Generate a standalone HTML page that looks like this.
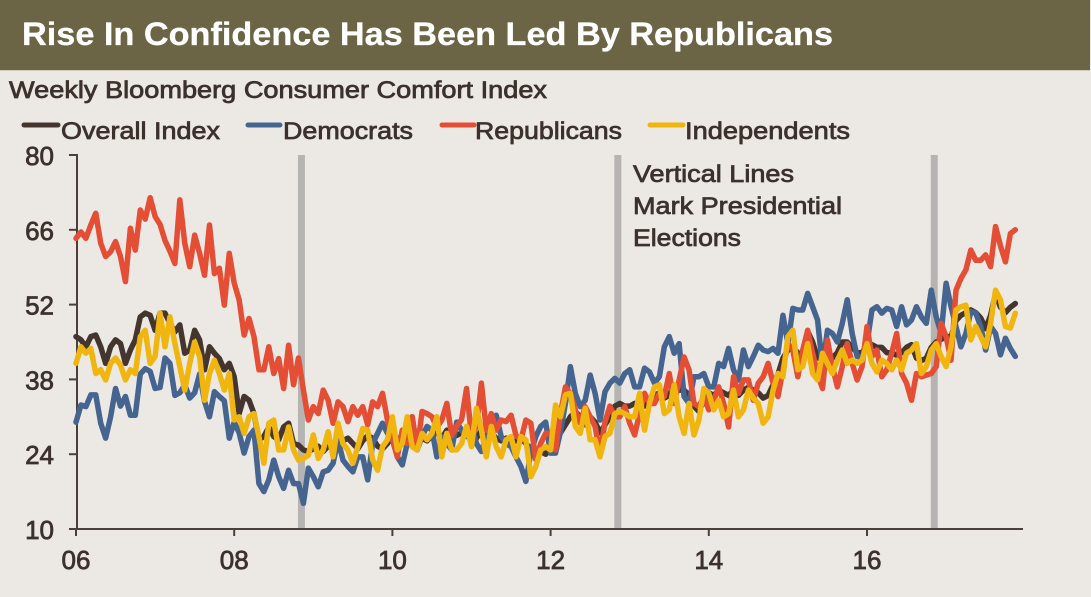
<!DOCTYPE html>
<html lang="en">
<head>
<meta charset="utf-8">
<title>Rise In Confidence Has Been Led By Republicans</title>
<style>
  html, body { margin: 0; padding: 0; background: #ece9e5; }
  svg { display: block; }
  text { font-family: "Liberation Sans", sans-serif; fill: #3c312d; stroke: #3c312d; stroke-width: 0.75px; }
  .heading { fill: #ffffff; stroke: #ffffff; stroke-width: 0.3px; font-weight: bold; }
</style>
</head>
<body>
<svg id="chart" width="1091" height="597" viewBox="0 0 1091 597" xmlns="http://www.w3.org/2000/svg">
  <rect x="0" y="0" width="1091" height="597" fill="#ece9e5"/>
  <rect x="0" y="0" width="1090" height="70" fill="#6c6545"/>
  <rect x="0" y="70" width="1090" height="1" fill="#cfcabb"/>
  <text class="heading" x="22" y="45" font-size="32" textLength="811" lengthAdjust="spacingAndGlyphs">Rise In Confidence Has Been Led By Republicans</text>
  <text x="9" y="98" font-size="24" textLength="538" lengthAdjust="spacingAndGlyphs">Weekly Bloomberg Consumer Comfort Index</text>

  <g>
    <g>
      <line x1="24" y1="125" x2="58" y2="125" stroke="#44362f" stroke-width="5" stroke-linecap="round"/>
      <text x="61" y="139" font-size="24.5" textLength="159" lengthAdjust="spacingAndGlyphs">Overall Index</text>
    </g>
    <g>
      <line x1="248" y1="125" x2="280" y2="125" stroke="#456590" stroke-width="5" stroke-linecap="round"/>
      <text x="283" y="139" font-size="24.5" textLength="130" lengthAdjust="spacingAndGlyphs">Democrats</text>
    </g>
    <g>
      <line x1="442" y1="125" x2="474" y2="125" stroke="#e34e35" stroke-width="5" stroke-linecap="round"/>
      <text x="475" y="139" font-size="24.5" textLength="147" lengthAdjust="spacingAndGlyphs">Republicans</text>
    </g>
    <g>
      <line x1="650" y1="125" x2="683" y2="125" stroke="#f0b50f" stroke-width="5" stroke-linecap="round"/>
      <text x="685" y="139" font-size="24.5" textLength="165" lengthAdjust="spacingAndGlyphs">Independents</text>
    </g>
  </g>

  <g id="elections"></g>
  <g id="axes"></g>
  <g id="series"></g>

  <g>
    <text x="633" y="182" font-size="24.5" textLength="161" lengthAdjust="spacingAndGlyphs">Vertical Lines</text>
    <text x="633" y="214" font-size="24.5" textLength="209" lengthAdjust="spacingAndGlyphs">Mark Presidential</text>
    <text x="633" y="246" font-size="24.5" textLength="108" lengthAdjust="spacingAndGlyphs">Elections</text>
  </g>
</svg>

<script>
// Value scale and tick labels
const yTicks = [10, 24, 38, 52, 66, 80];
const xTickYears = [2006, 2008, 2010, 2012, 2014, 2016];
const xTickLabels = ["06", "08", "10", "12", "14", "16"];
const electionYears = [2008.85, 2012.85, 2016.85];
const startYear = 2006;
const samplesPerYear = 16;

// Index values sampled 16 times per year from January 2006
const overall = [
  46,45.4,44.1,46,46.3,44.1,41,44.1,45.4,44.7,
  41,43.5,45.4,49.7,50.4,50,47.2,50.4,50.4,48.5,
  46.9,48.2,42.9,43.5,47.2,45.4,39.8,44.1,42.9,41.9,
  39.8,41,38.5,31.6,34.8,34.1,31.6,26.7,27.3,29.1,
  27.3,26.7,29.1,29.8,26,25.7,24.8,
  24.5,25,25.5,24.5,25.5,25,26,26.5,27,26,
  25,26.5,27.5,27,25.5,25,26,27.5,27,26,
  27,26,25.5,27,26.5,27.5,28,27,28.5,27.5,
  27.5,28,28.5,28,27,28.5,29,28,27,26.5,
  27,26,26.5,27,26,25,24.5,24.5,24,25,
  27,28,29.5,31,32,31,29.5,31,30,28,
  29.5,31,33,
  33.5,33,33,33.5,33,33,34,35,35.5,34.5,
  35,37,36,36,35,33,32,34,35.5,35,
  36,35.5,35,36,35,36,36.5,36,35.5,34.5,
  35,37,39,42,43.5,44,43,42.5,47,45,42,
  42,41.5,42,43,45,45,44,43,43,44.5,
  44.5,44,44,43,43,42.5,43,44,44.5,42,
  41.5,42,44,45,45.5,46,46,49,50,50.5,
  51,50.5,49.5,47.5,50,54,51.5,50.5,51.5,52.2
];
const democrats = [
  30,33.2,32.9,35.1,35.1,29.8,27,31,36.3,33,
  34.8,31.3,31.3,39,40,39.5,36.3,36.5,42,41,
  35,35.5,37,34.5,35.5,39,33.9,31,35.7,34.8,
  34,27,30,28,24.2,27.3,28.5,18.5,17,19.2,
  22.9,19.8,17.6,21,18.5,18.5,14.8,
  21.4,19.8,17.9,20.7,21,22.3,26.7,22.9,21.7,20.7,
  23.5,23.5,19.2,26,27.9,29.8,27.9,26.7,23.5,22,
  26,31,24.8,27.3,29.2,28.5,23.5,27.3,26,24.8,
  30,28.5,27.3,29.5,26,24.5,27.3,29.8,31.3,27.3,
  26,25.4,23.5,21.7,18.9,24.2,27.3,29.2,30,24.2,
  24.2,28.2,33.5,40.4,35.4,32.9,34.1,38.8,35.4,30.4,
  35.7,37.3,38.2,
  37.3,39.1,39.8,36.6,36.6,40.1,39.4,37.3,38.5,44.1,
  46,42.9,44.7,34.8,33.5,38.5,38.5,39.1,36.6,36.6,
  41,40.4,43.8,39.8,37.9,43.5,40.4,42.3,44.4,43.5,
  43.2,43.8,42.9,50,44.7,51.3,51,51,54.1,51.6,49.1,
  40.4,47.2,46.6,45,48.5,52.9,46.6,42.3,42,44.7,
  51,51.6,50.4,51.3,51,47.9,51.6,48.2,49.1,51.6,
  49.7,48.5,54.7,49.7,46.6,56,51.6,47.9,44.1,46.6,
  50.7,50.4,47.9,43.5,47.9,46.6,42.6,45.7,43.8,42.3
];
const republicans = [
  64.4,65.6,64.4,66.9,69.1,63.5,61,61.9,63.8,61,
  56.3,66.3,62.2,69.7,68,72,68.5,67,64,62,
  59.7,71.6,63.5,59.1,65,61.6,57.5,66.9,57.8,58.8,
  51.9,61.6,56,52.9,46.3,49.4,46,39.8,39.8,44.1,
  39.1,41.9,36.3,44.4,37,42,36,
  30.4,32.9,31.6,36,34.1,29.8,33.8,32.9,30.1,32.9,
  31.3,32.9,29.5,33.8,32.9,35.4,30.4,27,23.5,28.5,
  26,31,24.8,32,31.6,31,29,30.4,33.5,27.5,
  29.2,30.5,36.3,27.3,29.2,37.3,28.5,31.6,28.5,30.4,
  30.1,31.3,27.5,26.7,30.4,29.8,23,26,27.9,27.9,
  24.8,31.6,36.6,35.4,32.3,29.8,32.9,31,29.2,24,
  30,33,31,
  31,32.9,29.8,27.6,31.6,35.4,33.5,33.5,35.4,34.8,
  39.1,33.5,37.9,42.2,39.8,33.5,32.9,34.8,32.3,34.1,
  36.6,33.5,29.1,38.5,35.4,37.9,37.9,34.1,37.3,38.5,
  41,37.3,34.8,39.8,44.7,43.5,38.5,43.5,47.2,42.9,39,
  36.3,45.4,40.4,36.6,40.4,44.7,41,37.9,40.4,47.9,
  42.3,43.5,38.5,39.8,42.9,46.6,39.1,37.3,34.1,39.1,
  38.5,38.8,39.1,40.4,48.5,46,41.6,54.7,56.9,58.5,
  62.2,60.3,60.3,61.3,59.1,66.6,63,60,65.3,66
];
const independents = [
  41,44.1,42.9,43.8,39.1,39.8,37.9,41,42,40.7,
  37.9,39.8,39.1,46,47.2,41,42.3,50.4,44.1,49.7,
  44.7,40.4,36,41,45,42.3,34.1,39.1,41.6,39.1,
  36,39.1,30.4,31,27.9,31,31.6,27.3,22.3,29.8,
  30.4,24.8,24.8,29.1,24.8,22.9,23.2,
  23.8,27.6,23.2,24.8,28.2,23.5,29.8,26,24.8,22.3,
  25.4,28.8,28.5,23,21,25.4,26.7,31,24.8,26,
  31,25.4,24.8,27.9,26.7,27.9,31,23.5,27.9,24.8,
  24.8,26,29.2,25.4,32.6,28.5,23.5,29.2,25.4,23.5,
  26.7,27.3,23.5,27.3,26.7,19.8,21.7,24.8,25.4,24.8,
  33.2,31,35.1,35.4,29.2,27.9,32.6,26.7,26.7,23.5,
  27.3,27.9,31.6,
  32,31.6,31,31,35.4,28.5,33.5,36.6,37,31.6,
  32.3,37,31,27.9,33.5,27.6,30.4,36.3,35.4,32.3,
  34.1,31,31.6,36,31,32.3,36,34.5,33.5,29.8,
  31,36,39.1,38.5,46,47.2,39.8,40.4,44.7,39.1,37.9,
  42.9,41,39.1,41.6,43.5,41,41.6,41,41.6,44.7,
  41,39.4,41.6,41,39.8,41.6,39.8,42.9,43.5,44.7,
  39.1,40.4,43.5,44.7,42.3,40.4,44.1,51,51.6,51.9,
  45.4,47.9,46,44.1,48.5,54.7,52.9,47.9,47.6,50.4
];

// Axis functions
const xScale = year => 76 + (year - 2006) * 79.1;
const yScale = value => 529 - (value - 10) * (374 / 70);

const NS = "http://www.w3.org/2000/svg";
const make = (tag, attrs) => {
  const el = document.createElementNS(NS, tag);
  for (const key in attrs) el.setAttribute(key, attrs[key]);
  return el;
};

const electionGroup = document.getElementById("elections");
electionYears.forEach(year => {
  const band = make("line", { x1: xScale(year), x2: xScale(year), y1: yScale(80), y2: yScale(10), stroke: "#b5b4b2", "stroke-width": 7 });
  
  
  electionGroup.appendChild(band);
});

const axisColor = "#4a403a";
const axesGroup = document.getElementById("axes");

const yAxis = make("line", { x1: 77, x2: 77, y1: yScale(80) - 1, y2: yScale(10) + 1, stroke: axisColor, "stroke-width": 2 });


axesGroup.appendChild(yAxis);

const xAxis = make("line", { x1: 69, x2: 1023, y1: yScale(10), y2: yScale(10), stroke: axisColor, "stroke-width": 2 });


axesGroup.appendChild(xAxis);

yTicks.forEach(value => {
  const tick = make("line", { x1: 69, x2: 77, y1: yScale(value), y2: yScale(value), stroke: axisColor, "stroke-width": 2 });
  
  
  axesGroup.appendChild(tick);
  const label = make("text", { x: 54, y: yScale(value) + 10, "font-size": 26, "text-anchor": "end" });
  
  
  label.textContent = String(value);
  axesGroup.appendChild(label);
});

xTickYears.forEach((year, i) => {
  const tick = make("line", { x1: xScale(year), x2: xScale(year), y1: yScale(10), y2: yScale(10) + 7, stroke: axisColor, "stroke-width": 2 });
  
  
  axesGroup.appendChild(tick);
  const label = make("text", { x: xScale(year), y: 569, "font-size": 26, "text-anchor": "middle" });
  
  
  label.textContent = xTickLabels[i];
  axesGroup.appendChild(label);
});

const seriesGroup = document.getElementById("series");
const drawSeries = (values, color) => {
  const points = values.map((v, i) => xScale(startYear + i / samplesPerYear).toFixed(2) + "," + yScale(v).toFixed(2)).join(" ");
  const line = make("polyline", { points: points, fill: "none", stroke: color, "stroke-width": 5.5, "stroke-linejoin": "round", "stroke-linecap": "round" });
  seriesGroup.appendChild(line);
  return line;
};

const overallLine = drawSeries(overall, "#44362f");



const democratsLine = drawSeries(democrats, "#456590");



const republicansLine = drawSeries(republicans, "#e34e35");



const independentsLine = drawSeries(independents, "#f0b50f");


</script>
</body>
</html>
